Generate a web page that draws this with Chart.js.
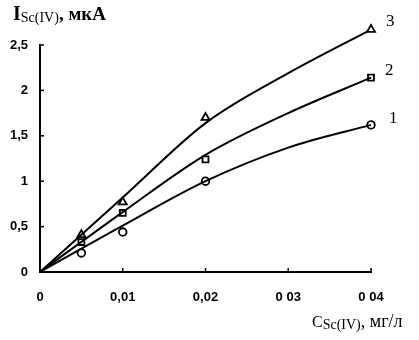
<!DOCTYPE html>
<html>
<head>
<meta charset="utf-8">
<script src="https://cdn.jsdelivr.net/npm/chart.js@4"></script>
<style>
html,body{margin:0;padding:0;background:#fff;}
#wrap{width:419px;height:340px;}
</style>
</head>
<body>
<div id="wrap"><canvas id="c" width="419" height="340"></canvas></div>
<script>
// ---- data ----
const xTickLabels = ['0', '0,01', '0,02', '0 03', '0 04'];
const yTickLabels = ['0', '0,5', '1', '1,5', '2', '2,5'];

// measured points (markers)
const xPoints = [0.005, 0.01, 0.02, 0.04];
const points1 = [0.21, 0.44, 1.00, 1.62];   // circles
const points2 = [0.33, 0.65, 1.24, 2.14];   // squares
const points3 = [0.41, 0.77, 1.70, 2.67];   // triangles

// fitted curves
const xCurve = [0, 0.01, 0.02, 0.03, 0.04];
const curve1 = [0, 0.51, 1.00, 1.37, 1.62];
const curve2 = [0, 0.66, 1.29, 1.75, 2.14];
const curve3 = [0, 0.82, 1.64, 2.19, 2.67];

const seriesNames = ['1', '2', '3'];

const toXY = (xs, ys) => xs.map((x, i) => ({x: x, y: ys[i]}));

function lineDs(ys) {
  return {
    type: 'scatter',
    data: toXY(xCurve, ys),
    showLine: true,
    borderColor: '#000',
    borderWidth: 2,
    pointRadius: 0,
    cubicInterpolationMode: 'monotone',
    clip: false
  };
}
function markDs(ys, style, r) {
  return {
    type: 'scatter',
    data: toXY(xPoints, ys),
    showLine: false,
    pointStyle: style,
    pointRadius: r,
    pointBorderWidth: 1.8,
    pointBorderColor: '#000',
    pointBackgroundColor: '#fff',
    clip: false
  };
}

const decor = {
  id: 'decor',
  afterDatasetsDraw(chart) {
    // draw markers lying above the top of the y axis (library skips them)
    const ctx = chart.ctx, a = chart.chartArea;
    chart.data.datasets.forEach((ds, di) => {
      if (ds.showLine) return;
      chart.getDatasetMeta(di).data.forEach(el => {
        if (el.y < a.top - 1) el.draw(ctx);
      });
    });
  },
  afterDraw(chart) {
    const ctx = chart.ctx;
    const xs = chart.scales.x, ys = chart.scales.y;
    ctx.save();
    ctx.strokeStyle = '#000';
    ctx.lineWidth = 1.5;
    // inward ticks
    [0.5, 1, 1.5, 2, 2.5].forEach(v => {
      const py = ys.getPixelForValue(v);
      ctx.beginPath(); ctx.moveTo(xs.left, py); ctx.lineTo(xs.left + 4, py); ctx.stroke();
    });
    [0.01, 0.02, 0.03, 0.04].forEach(v => {
      const px = xs.getPixelForValue(v);
      ctx.beginPath(); ctx.moveTo(px, ys.bottom); ctx.lineTo(px, ys.bottom - 4); ctx.stroke();
    });
    // series labels
    ctx.fillStyle = '#000';
    ctx.font = '17px "Liberation Serif"';
    ctx.textAlign = 'left';
    ctx.textBaseline = 'alphabetic';
    const lastPts = [points1, points2, points3];
    const offs = [[18, -2], [14, -3], [15, -4]];
    lastPts.forEach((arr, i) => {
      const px = xs.getPixelForValue(xPoints[xPoints.length - 1]);
      const py = ys.getPixelForValue(arr[arr.length - 1]);
      ctx.fillText(seriesNames[i], px + offs[i][0], py + offs[i][1]);
    });
    // y title
    let x = 13;
    ctx.font = 'bold 20px "Liberation Serif"';
    ctx.fillText('I', x, 20); x += ctx.measureText('I').width;
    ctx.font = '14px "Liberation Serif"';
    ctx.fillText('Sc(IV)', x, 22); x += ctx.measureText('Sc(IV)').width;
    ctx.font = 'bold 19px "Liberation Serif"';
    ctx.fillText(', мкА', x, 20);
    // x title
    x = 312;
    ctx.font = '16px "Liberation Serif"';
    ctx.fillText('C', x, 327); x += ctx.measureText('C').width;
    ctx.font = '14px "Liberation Serif"';
    ctx.fillText('Sc(IV)', x, 329); x += ctx.measureText('Sc(IV)').width;
    ctx.font = '18px "Liberation Serif"';
    ctx.fillText(', мг/л', x, 327);
    ctx.restore();
  }
};

new Chart(document.getElementById('c'), {
  type: 'scatter',
  data: {
    datasets: [
      lineDs(curve1), lineDs(curve2), lineDs(curve3),
      markDs(points1, 'circle', 3.8),
      markDs(points2, 'rect', 4.2),
      markDs(points3, 'triangle', 4.6)
    ]
  },
  options: {
    responsive: false,
    animation: false,
    devicePixelRatio: 1,
    layout: {padding: {top: 45, right: 48, left: 0, bottom: 0}},
    plugins: {legend: {display: false}, tooltip: {enabled: false}},
    scales: {
      x: {
        type: 'linear', min: 0, max: 0.04,
        afterFit: s => { s.height = 68; },
        afterBuildTicks: s => { s.ticks = xTickLabels.map((_, i) => ({value: i * 0.01})); },
        ticks: {
          callback: (v, i) => xTickLabels[i],
          color: '#000', padding: 18, maxRotation: 0, autoSkip: false,
          font: {family: '"Liberation Sans"', size: 13, weight: 'bold'}
        },
        grid: {display: true, drawOnChartArea: false, drawTicks: false},
        border: {display: true, color: '#000', width: 2}
      },
      y: {
        type: 'linear', min: 0, max: 2.5,
        afterFit: s => { s.width = 40; },
        afterBuildTicks: s => { s.ticks = yTickLabels.map((_, i) => ({value: i * 0.5})); },
        ticks: {
          callback: (v, i) => yTickLabels[i],
          color: '#000', padding: 12, autoSkip: false,
          font: {family: '"Liberation Sans"', size: 13, weight: 'bold'}
        },
        grid: {display: true, drawOnChartArea: false, drawTicks: false},
        border: {display: true, color: '#000', width: 2}
      }
    }
  },
  plugins: [decor]
});
</script>
</body>
</html>
